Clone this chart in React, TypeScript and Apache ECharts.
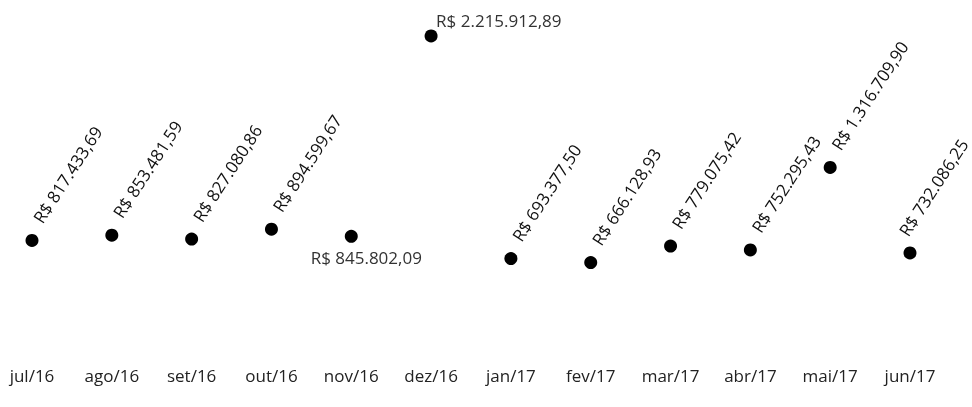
import React, { useEffect, useRef } from "react";
import * as echarts from "echarts";

const months = ["jul/16", "ago/16", "set/16", "out/16", "nov/16", "dez/16", "jan/17", "fev/17", "mar/17", "abr/17", "mai/17", "jun/17"];
const revenue = [817433.69, 853481.59, 827080.86, 894599.67, 845802.09, 2215912.89, 693377.5, 666128.93, 779075.42, 752295.43, 1316709.9, 732086.25];

const fmtBRL = (v: number) => {
  const [intPart, dec] = v.toFixed(2).split(".");
  const withDots = intPart.replace(/\B(?=(\d{3})+(?!\d))/g, ".");
  return "R$ " + withDots + "," + dec;
};

const FONT = "'Open Sans', 'Liberation Sans', sans-serif";

export default function App() {
  const ref = useRef<HTMLDivElement>(null);
  useEffect(() => {
    if (!ref.current) return;
    const chart = echarts.init(ref.current, undefined, { renderer: "svg" });
    const rotated = {
      show: true,
      position: "inside",
      rotate: 57,
      align: "left",
      verticalAlign: "middle",
      offset: [19, -6],
      fontSize: 17,
      fontFamily: FONT,
      color: "#111",
      formatter: (p: any) => fmtBRL(p.value),
    };
    const last = revenue.length - 1;
    const data = revenue.map((v, i) => {
      if (i === 4) {
        return {
          value: v,
          label: { show: true, position: "bottom", distance: 6, rotate: 0, align: "center", verticalAlign: "top", offset: [15, 0], fontSize: 17, fontFamily: FONT, color: "#333", formatter: (p: any) => fmtBRL(p.value) },
        };
      }
      if (i === 5) {
        return {
          value: v,
          label: { show: true, position: "top", distance: 0, rotate: 0, align: "left", verticalAlign: "bottom", offset: [5, 0], fontSize: 17, fontFamily: FONT, color: "#333", formatter: (p: any) => fmtBRL(p.value) },
        };
      }
      if (i === last) {
        return { value: v, label: { ...rotated, offset: [12, -16] } };
      }
      return { value: v };
    });
    chart.setOption({
      animation: false,
      grid: { left: 32, right: 62, top: 9, bottom: 47 },
      xAxis: {
        type: "category",
        data: months,
        boundaryGap: false,
        axisLine: { show: false },
        axisTick: { show: false },
        axisLabel: { fontSize: 17, fontFamily: FONT, color: "#222", margin: 7, interval: 0 },
        splitLine: { show: false },
      },
      yAxis: {
        type: "value",
        min: 0,
        max: 2400000,
        show: false,
        splitLine: { show: false },
      },
      series: [
        {
          type: "line",
          data,
          lineStyle: { width: 0, opacity: 0 },
          symbol: "circle",
          symbolSize: 13,
          showSymbol: true,
          itemStyle: { color: "#000" },
          label: rotated,
        },
      ],
    });
    return () => chart.dispose();
  }, []);
  return <div ref={ref} style={{ position: "fixed", left: 0, top: 0, width: 972, height: 407 }} />;
}
